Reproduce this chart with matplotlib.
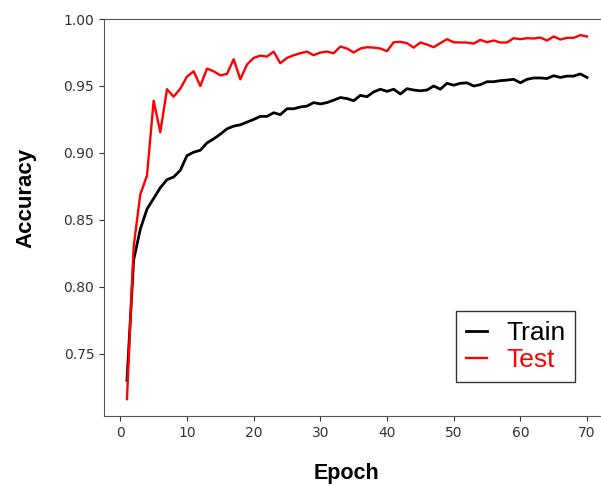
import numpy as np
import matplotlib
matplotlib.use("Agg")
import matplotlib.pyplot as plt

# Valores (epocas 1..70)
epochs = list(range(1, 71))
train_acc = [0.730, 0.820, 0.843, 0.858, 0.866, 0.874, 0.880, 0.882, 0.887, 0.898,
             0.9005, 0.902, 0.9075, 0.9105, 0.914, 0.918, 0.920, 0.921, 0.923, 0.925,
             0.9273, 0.9273, 0.930, 0.9286, 0.933, 0.933, 0.9343, 0.935, 0.9376, 0.9366,
             0.9376, 0.9394, 0.9414, 0.9406, 0.939, 0.943, 0.942, 0.9456, 0.9476, 0.946,
             0.9476, 0.944, 0.948, 0.947, 0.9464, 0.947, 0.950, 0.9476, 0.952, 0.9506,
             0.952, 0.9524, 0.950, 0.951, 0.9532, 0.9532, 0.954, 0.9544, 0.955, 0.9524,
             0.955, 0.956, 0.956, 0.9556, 0.9577, 0.9564, 0.9574, 0.9574, 0.959, 0.9564]
test_acc = [0.716, 0.830, 0.869, 0.883, 0.939, 0.9155, 0.9476, 0.942, 0.948, 0.957,
            0.961, 0.950, 0.963, 0.961, 0.958, 0.959, 0.970, 0.955, 0.966, 0.971,
            0.9727, 0.972, 0.9757, 0.967, 0.971, 0.973, 0.9745, 0.9757, 0.973, 0.975,
            0.9757, 0.9745, 0.9795, 0.978, 0.975, 0.978, 0.979, 0.9787, 0.978, 0.976,
            0.9827, 0.983, 0.982, 0.9787, 0.9825, 0.981, 0.979, 0.982, 0.985, 0.9827,
            0.9825, 0.9825, 0.9817, 0.9845, 0.9827, 0.984, 0.9825, 0.9825, 0.9857, 0.985,
            0.9857, 0.9855, 0.9862, 0.984, 0.987, 0.9847, 0.986, 0.986, 0.988, 0.987]

fig = plt.figure(figsize=(6.01, 4.87), dpi=100)
# el eje se sale un poco por la derecha, como en la imagen original
ax = fig.add_axes([0.173, 0.1458, 0.842, 0.815])

ax.plot(epochs, train_acc, color='black', linewidth=2, label='Train')
ax.plot(epochs, test_acc, color='red', linewidth=1.7, label='Test')

ax.set_ylim(0.7034, 1.0)
ax.set_yticks([0.75, 0.80, 0.85, 0.90, 0.95, 1.00])
ax.set_xticks([0, 10, 20, 30, 40, 50, 60, 70])
ax.tick_params(labelsize=10, colors='#333333')
for s in ax.spines.values():
    s.set_color('#555555')

ax.set_xlabel('Epoch', fontsize=15.5, fontweight='bold', family='Liberation Sans')
ax.set_ylabel('Accuracy', fontsize=16, fontweight='bold', family='Liberation Sans')
ax.xaxis.set_label_coords(0.48, -0.118)
ax.yaxis.set_label_coords(-0.134, 0.55)

leg = ax.legend(loc='lower right', bbox_to_anchor=(0.957, 0.2156), bbox_transform=fig.transFigure,
                borderaxespad=0, fancybox=False, edgecolor='#333333', framealpha=1,
                prop={'family': 'Liberation Sans', 'size': 19},
                handlelength=0.8, handletextpad=0.7, labelspacing=0.12, borderpad=0.38)
leg.get_frame().set_linewidth(1.0)
for txt, line in zip(leg.get_texts(), leg.get_lines()):
    txt.set_color(line.get_color())

plt.savefig('out.png', dpi=100)
plt.close()
